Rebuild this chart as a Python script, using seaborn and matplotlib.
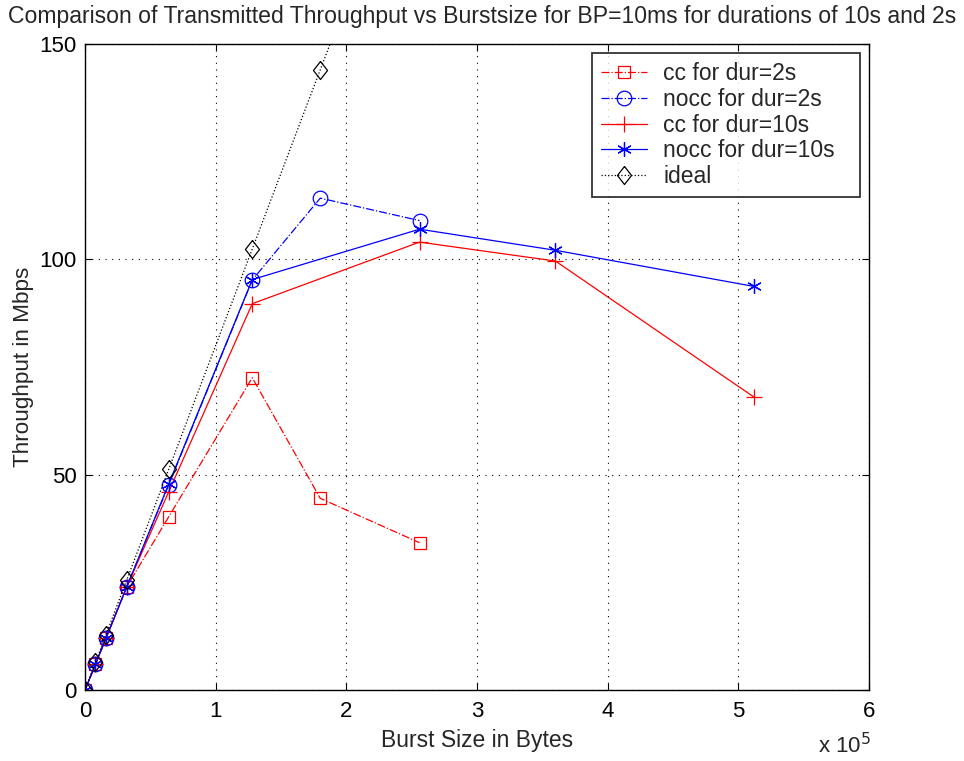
import matplotlib
matplotlib.use("Agg")
import matplotlib.pyplot as plt
import seaborn as sns
import pandas as pd

# Burst sizes (bytes)
burst_2s = [0, 8000, 16000, 32000, 64000, 128000, 180000, 256000]
burst_10s = [0, 8000, 16000, 32000, 64000, 128000, 256000, 360000, 512000]
burst_ideal = [0, 8000, 16000, 32000, 64000, 128000, 180000, 256000]

# Throughput (Mbps)
cc_2s = [0, 6.0, 12.0, 24.0, 40.2, 72.5, 44.5, 34.2]
nocc_2s = [0, 6.0, 12.0, 24.0, 47.6, 95.2, 114.2, 109.0]
cc_10s = [0, 6.0, 12.0, 24.0, 46.0, 89.7, 104.0, 99.6, 68.0]
nocc_10s = [0, 6.0, 12.0, 24.0, 47.8, 95.3, 107.0, 102.1, 93.7]
ideal = [0, 6.4, 12.8, 25.6, 51.2, 102.4, 144.0, 204.8]

x_ticks = [0, 100000, 200000, 300000, 400000, 500000, 600000]
x_tick_labels = ["0", "1", "2", "3", "4", "5", "6"]
y_ticks = [0, 50, 100, 150]

sns.set_style("white")
plt.rcParams["font.family"] = ["Liberation Sans", "DejaVu Sans"]

fig = plt.figure(figsize=(9.64, 7.61), dpi=100)
ax = fig.add_axes([0.0882, 0.0933, 0.8133, 0.8489])

# wide diamond outline
diamond = [(0, 1), (0.78, 0), (0, -1), (-0.78, 0), (0, 1)]

series = [
    ("cc for dur=2s", burst_2s, cc_2s, "red", "-.", "s", 8.3),
    ("nocc for dur=2s", burst_2s, nocc_2s, "blue", "-.", "o", 10.5),
    ("cc for dur=10s", burst_10s, cc_10s, "red", "-", "+", 11),
    ("nocc for dur=10s", burst_10s, nocc_10s, "blue", "-", (6, 2, 0), 10.5),
    ("ideal", burst_ideal, ideal, "black", ":", diamond, 13),
]

for label, xs, ys, color, ls, mk, ms in series:
    df = pd.DataFrame({"burst": xs, "tput": ys})
    sns.lineplot(data=df, x="burst", y="tput", ax=ax, color=color,
                 linestyle=ls, marker=mk, markersize=ms,
                 markerfacecolor="none", markeredgecolor=color,
                 markeredgewidth=0.9, linewidth=0.9, label=label,
                 sort=False, clip_on=True)

ax.set_xlim(0, 600000)
ax.set_ylim(0, 150)
ax.set_xticks(x_ticks)
ax.set_xticklabels(x_tick_labels)
ax.set_yticks(y_ticks)
ax.set_yticklabels([str(v) for v in y_ticks])

ax.grid(True, color="black", linestyle=(0, (1, 5)), linewidth=0.8)
for side in ["top", "right", "bottom", "left"]:
    ax.spines[side].set_visible(True)
    ax.spines[side].set_color("black")
    ax.spines[side].set_linewidth(1.0)
ax.tick_params(direction="in", length=5, width=0.8, top=True, right=True,
               bottom=True, left=True, labelsize=16, colors="black")
ax.tick_params(axis="x", pad=8)
ax.tick_params(axis="y", pad=6)

ax.set_xlabel("Burst Size in Bytes", fontsize=16.5, labelpad=5)
ax.set_ylabel("Throughput in Mbps", fontsize=16.2, labelpad=4)
fig.text(0.5, 0.978,
         "Comparison of Transmitted Throughput vs Burstsize for BP=10ms for durations of 10s and 2s",
         fontsize=16.6, ha="center", va="center")
fig.text(0.849, 0.004, r"x 10$^{5}$", fontsize=16, ha="left", va="bottom")

leg = ax.legend(loc="upper left", bbox_to_anchor=(0.6467, 0.986, 0.3418, 0.0),
                mode="expand", frameon=True,
                fontsize=16.5, handlelength=2.0, handletextpad=0.7,
                borderpad=0.4, labelspacing=0.12, borderaxespad=0,
                fancybox=False)
leg.get_frame().set_edgecolor("black")
leg.get_frame().set_linewidth(1.3)

fig.savefig("out.png", dpi=100, facecolor="white")
